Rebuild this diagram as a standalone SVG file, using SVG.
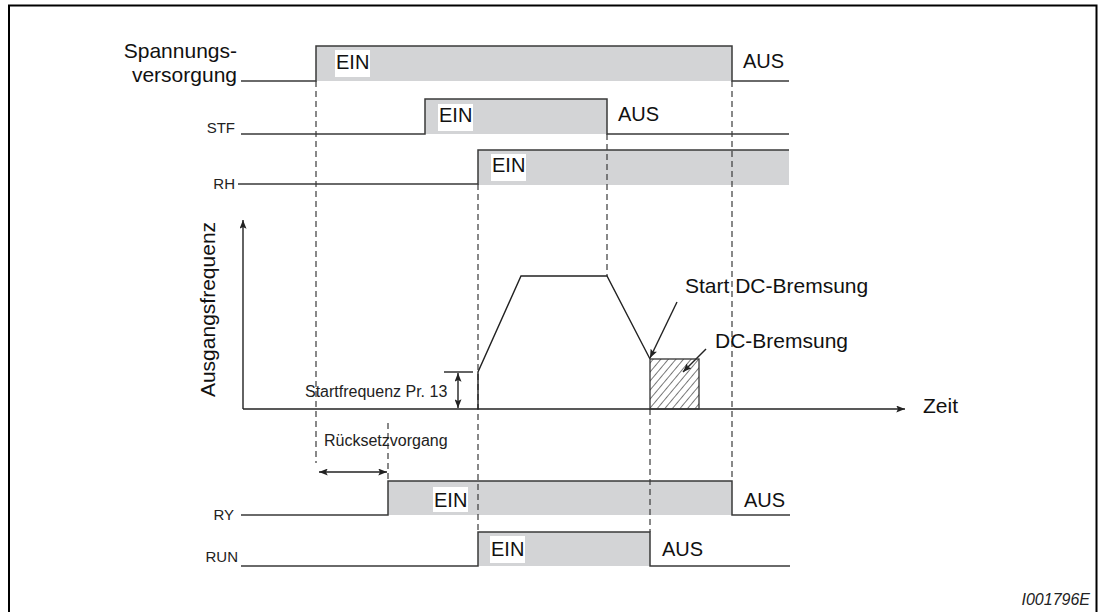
<svg xmlns="http://www.w3.org/2000/svg" width="1105" height="612" viewBox="0 0 1105 612">
<style>
.sig{fill:none;stroke:#3a3a3a;stroke-width:1.5}
.fill{fill:#d3d4d6}
.dash{fill:none;stroke:#3a3a3a;stroke-width:1.2;stroke-dasharray:6 4}
.ln{fill:none;stroke:#222;stroke-width:1.4}
.big{font-family:"Liberation Sans",Arial,sans-serif;font-size:21px;fill:#111}
.ein{font-family:"Liberation Sans",Arial,sans-serif;font-size:20px;fill:#111}
.sm{font-family:"Liberation Sans",Arial,sans-serif;font-size:15px;fill:#222}
.mid{font-family:"Liberation Sans",Arial,sans-serif;font-size:16px;fill:#222}
.wb{fill:#fff}
</style>
<defs>
<marker id="ah" viewBox="0 0 10 8" refX="10" refY="4" markerWidth="9" markerHeight="7" markerUnits="userSpaceOnUse" orient="auto-start-reverse">
<path d="M0,0 L10,4 L0,8 L2,4 Z" fill="#222"/>
</marker>
<pattern id="hatch" width="5.8" height="5.8" patternUnits="userSpaceOnUse" patternTransform="rotate(40)">
<line x1="0" y1="0" x2="0" y2="5.8" stroke="#222" stroke-width="1.2"/>
</pattern>
</defs>
<rect x="9" y="5.5" width="1087.5" height="700" fill="none" stroke="#000" stroke-width="2"/>

<g id="spannung">
<rect class="fill" x="316" y="46" width="416" height="35"/>
<path class="sig" d="M241,81 H316 V46 H732 V81 H789"/>
<text class="big" x="237" y="58" text-anchor="end">Spannungs-</text>
<text class="big" x="237" y="82" text-anchor="end">versorgung</text>
</g>
<g id="stf">
<rect class="fill" x="425" y="99" width="182" height="35"/>
<path class="sig" d="M241,134 H425 V99 H607 V134 H789"/>
<text class="sm" x="235" y="133" text-anchor="end">STF</text>
</g>
<g id="rh">
<rect class="fill" x="478" y="150" width="311" height="35"/>
<path class="sig" d="M238,184 H478 V150 H789"/>
<text class="sm" x="235" y="189" text-anchor="end">RH</text>
</g>
<g id="ry">
<rect class="fill" x="388" y="481" width="344" height="34"/>
<path class="sig" d="M241,515 H388 V481 H732 V515 H790"/>
<text class="sm" x="234" y="520" text-anchor="end">RY</text>
</g>
<g id="run">
<rect class="fill" x="478" y="532" width="172" height="34"/>
<path class="sig" d="M241,566 H478 V532 H650 V566 H790"/>
<text class="sm" x="238" y="562" text-anchor="end">RUN</text>
</g>

<g id="connectors">
<line class="dash" x1="316" y1="81" x2="316" y2="463"/>
<line class="dash" x1="388" y1="423" x2="388" y2="481"/>
<line class="dash" x1="478" y1="184" x2="478" y2="532"/>
<line class="dash" x1="607" y1="134" x2="607" y2="276"/>
<line class="dash" x1="650" y1="409" x2="650" y2="532"/>
<line class="dash" x1="732" y1="81" x2="732" y2="481"/>
<line class="ln" x1="243" y1="409" x2="243" y2="220" marker-end="url(#ah)"/>
<line class="ln" x1="243" y1="409" x2="905" y2="409" marker-end="url(#ah)"/>
<line class="ln" x1="444" y1="372" x2="473" y2="372"/>
<line class="ln" x1="458" y1="373" x2="458" y2="408" marker-start="url(#ah)" marker-end="url(#ah)"/>
<line class="ln" x1="319" y1="472" x2="387" y2="472" marker-start="url(#ah)" marker-end="url(#ah)"/>
<line class="ln" x1="677" y1="302" x2="650" y2="358" marker-end="url(#ah)"/>
<line class="ln" x1="706" y1="349" x2="683" y2="372" marker-end="url(#ah)"/>
</g>

<g id="frequenz">
<path class="ln" d="M478,409 V372 L521,276 H607 L650,359"/>
<rect x="650" y="359" width="49" height="50" fill="url(#hatch)" stroke="#333" stroke-width="1.3"/>
</g>

<g id="labels">
<rect class="wb" x="335" y="50" width="35" height="27"/>
<text class="ein" x="336" y="68.5">EIN</text>
<text class="ein" x="743" y="67.5">AUS</text>
<rect class="wb" x="438" y="104" width="35" height="27"/>
<text class="ein" x="439" y="122">EIN</text>
<text class="ein" x="618" y="121">AUS</text>
<rect class="wb" x="491" y="154" width="35" height="27"/>
<text class="ein" x="492" y="172">EIN</text>
<rect class="wb" x="433" y="487" width="35" height="25"/>
<text class="ein" x="434" y="507">EIN</text>
<text class="ein" x="744" y="507">AUS</text>
<rect class="wb" x="490" y="536" width="35" height="27"/>
<text class="ein" x="491" y="556">EIN</text>
<text class="ein" x="662" y="556">AUS</text>
<text class="big" transform="translate(215,309.5) rotate(-90)" text-anchor="middle">Ausgangsfrequenz</text>
<text class="mid" x="305" y="397">Startfrequenz Pr. 13</text>
<text class="mid" x="324" y="446">Rücksetzvorgang</text>
<text class="big" x="685" y="293">Start DC-Bremsung</text>
<text class="big" x="715" y="348">DC-Bremsung</text>
<text class="big" x="923" y="413">Zeit</text>
<text class="mid" x="1090" y="605" text-anchor="end" font-style="italic">I001796E</text>
</g>
</svg>
